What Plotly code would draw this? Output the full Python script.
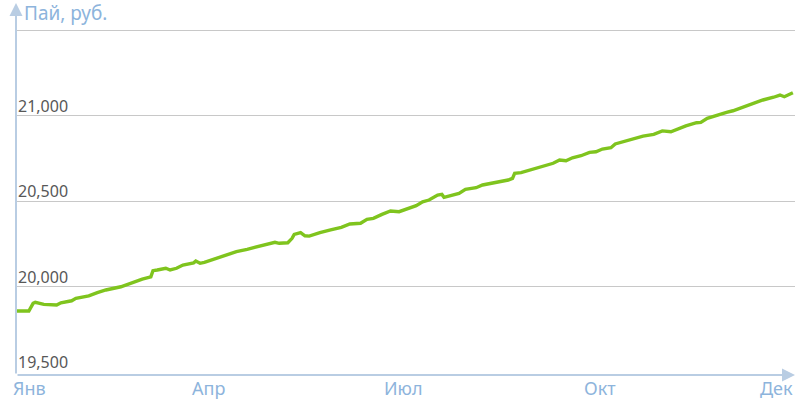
import pandas as pd
import plotly.graph_objects as go

# day offsets from 1 Jan and unit value (rub.)
day_offsets = [0, 6, 8, 9, 13, 19, 21, 26, 28, 34, 38, 42, 49, 53, 59, 63, 64, 66,
               70, 72, 75, 78, 83, 84, 86, 88, 91, 95, 99, 103, 108, 111, 116, 119,
               121, 123, 127, 129, 130, 133, 135, 137, 141, 142, 147, 152, 156, 161,
               164, 167, 171, 175, 179, 183, 187, 190, 193, 197, 199, 200, 203, 207,
               210, 215, 218, 223, 226, 230, 232, 233, 236, 239, 243, 248, 251, 254,
               257, 260, 264, 268, 271, 274, 278, 280, 284, 288, 293, 298, 302, 306,
               309, 313, 318, 320, 323, 327, 332, 335, 340, 344, 349, 354, 357, 359,
               362, 363]
unit_value = [19858, 19858, 19903, 19909, 19897, 19893, 19906, 19918, 19932, 19947,
              19965, 19981, 20000, 20020, 20045, 20058, 20094, 20098, 20108, 20098,
              20108, 20127, 20140, 20150, 20137, 20143, 20156, 20172, 20191, 20205,
              20219, 20228, 20244, 20250, 20260, 20254, 20257, 20283, 20306, 20316,
              20298, 20296, 20308, 20316, 20332, 20347, 20367, 20371, 20394, 20400,
              20423, 20443, 20439, 20458, 20474, 20497, 20507, 20536, 20540, 20523,
              20532, 20546, 20570, 20579, 20595, 20608, 20612, 20624, 20634, 20663,
              20667, 20678, 20692, 20712, 20722, 20741, 20737, 20754, 20766, 20786,
              20789, 20805, 20813, 20835, 20848, 20864, 20881, 20891, 20911, 20906,
              20922, 20940, 20959, 20961, 20985, 21002, 21020, 21029, 21053, 21073,
              21092, 21108, 21121, 21111, 21131, 21134]

y_ticks = [20000, 20500, 21000, 21500]
y_tick_labels = ['19,500', '20,000', '20,500', '21,000']
y_label_vals = [19500, 20000, 20500, 21000]
month_dates = ['2023-01-01', '2023-04-01', '2023-07-01', '2023-10-01', '2023-12-31']
month_labels = ['Янв', 'Апр', 'Июл', 'Окт', 'Дек']

dates = pd.Timestamp('2023-01-01') + pd.to_timedelta(day_offsets, unit='D')

AXIS_BLUE = '#b9cde3'
LABEL_BLUE = '#8db4dc'
FONT = 'Noto Sans, Open Sans, sans-serif'

fig = go.Figure(go.Scatter(
    x=dates, y=unit_value, mode='lines',
    line=dict(color='#7fc41e', width=3.4),
    hoverinfo='skip'
))

fig.update_layout(
    width=800, height=400,
    margin=dict(l=16, r=5, t=3, b=25),
    plot_bgcolor='white', paper_bgcolor='white',
    showlegend=False,
    font=dict(family=FONT),
    xaxis=dict(range=['2023-01-01', '2023-12-31'], showgrid=False,
               showticklabels=False, zeroline=False, showline=False),
    yaxis=dict(range=[19484, 21659], tickvals=y_ticks, showgrid=True,
               gridcolor='#c8c8c8', gridwidth=1.3, showticklabels=False,
               zeroline=False, showline=False),
)

# y tick labels sit above their gridlines
for v, t in zip(y_label_vals, y_tick_labels):
    fig.add_annotation(x=0, xref='paper', y=v, yref='y', text=t, showarrow=False,
                       xanchor='left', yanchor='bottom', xshift=0, yshift=-3,
                       font=dict(size=16, color='#585858'))

# month labels
anchors = ['left', 'center', 'center', 'center', 'right']
for d, t, a in zip(month_dates, month_labels, anchors):
    fig.add_annotation(x=d, xref='x', y=0, yref='paper', text=t, showarrow=False,
                       xanchor=a, yanchor='top', xshift=-5 if a == 'left' else 0,
                       yshift=1, font=dict(size=18, color=LABEL_BLUE))

# axis arrows
fig.add_annotation(x=0, y=1, xref='paper', yref='paper', ax=0, ay=372,
                   axref='pixel', ayref='pixel', text='', showarrow=True,
                   arrowhead=2, arrowsize=1.3, arrowwidth=2, arrowcolor=AXIS_BLUE)
fig.add_annotation(x=1, y=0, xref='paper', yref='paper', ax=-779, ay=0,
                   axref='pixel', ayref='pixel', text='', showarrow=True,
                   arrowhead=2, arrowsize=1.3, arrowwidth=2, arrowcolor=AXIS_BLUE)

fig.add_annotation(x=0, y=1, xref='paper', yref='paper', text='Пай, руб.',
                   showarrow=False, xanchor='left', yanchor='middle',
                   xshift=6, yshift=-10, font=dict(size=19, color=LABEL_BLUE))

fig.write_html('out.html', config={'displayModeBar': False},
               post_script="document.body.style.margin='0';")
